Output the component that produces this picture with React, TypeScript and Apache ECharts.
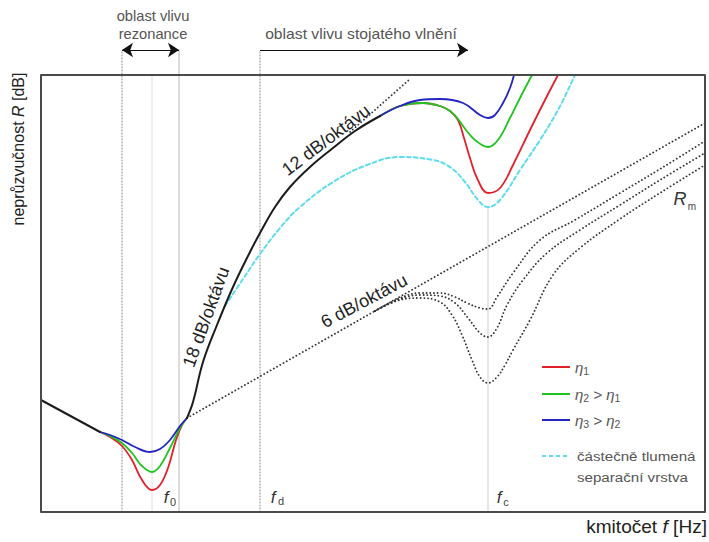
import React, { useEffect, useRef } from "react";
import * as echarts from "echarts";

// Frequency axis: relative log-frequency units (0 = left frame), R axis: relative dB units
const F_MAX = 664;
const R_TOP = 437; // top frame
const R_MAX = 462; // level of the region arrows

// characteristic frequencies
const resonanceBand = [81, 138];
const f0 = 111;
const fd = 219;
const fc = 447;
const standingWaveArrow = [219, 427];

// curves [f, R]
const blackLow = [[0, 112], [59, 80]];
const blackRise = [[146, 94], [152, 110], [162, 150], [176, 187], [192, 225], [209, 260], [219, 279], [234, 305], [249, 325], [269, 345], [292, 364], [314, 381], [339, 396]];
const eta3Low = [[59, 80], [69, 77], [81, 72], [94, 65], [109, 60], [119, 63], [129, 72], [139, 86], [146, 94]];
const eta2Low = [[59, 80], [69, 76], [81, 69], [91, 59], [101, 46], [111, 40], [119, 46], [129, 64], [139, 84], [146, 94]];
const eta1Low = [[59, 80], [69, 75], [81, 66], [91, 52], [101, 32], [111, 22], [119, 27], [127, 44], [135, 72], [141, 87], [146, 94]];
const eta3High = [[339, 396], [359, 406], [379, 412], [399, 413], [422, 409], [439, 397], [447, 394], [454, 397], [462, 409], [469, 424], [473, 437]];
const eta2High = [[339, 396], [359, 406], [382, 409], [399, 406], [409, 401], [417, 393], [425, 382], [434, 372], [447, 365], [457, 372], [469, 394], [479, 414], [491, 437]];
const eta1High = [[339, 396], [359, 406], [382, 409], [399, 406], [409, 401], [417, 392], [423, 374], [429, 354], [436, 334], [447, 319], [459, 324], [472, 347], [489, 382], [504, 412], [517, 437]];
const partialDamped = [[184, 206], [202, 233], [219, 258], [239, 284], [259, 305], [292, 330], [326, 347], [359, 355], [392, 352], [409, 345], [424, 330], [437, 312], [447, 305], [459, 312], [479, 342], [499, 372], [517, 402], [534, 437]];
const sixDbLine = [[146, 94], [664, 389]];
const twelveDbAsymptote = [[309, 380], [369, 433]];
const rmShallow = [[334, 201], [359, 214], [379, 219], [399, 219], [414, 215], [426, 209], [439, 204], [447, 203], [456, 215], [472, 239], [499, 272], [534, 292], [579, 319], [619, 343], [664, 371]];
const rmMid = [[334, 201], [359, 213], [379, 217], [399, 216], [414, 209], [427, 194], [439, 179], [447, 175], [456, 184], [466, 207], [482, 232], [506, 259], [539, 282], [579, 307], [619, 332], [664, 359]];
const rmDeep = [[334, 201], [359, 212], [379, 214], [399, 210], [411, 197], [421, 177], [431, 152], [439, 135], [447, 129], [456, 135], [464, 147], [472, 162], [489, 192], [512, 237], [539, 264], [579, 293], [619, 319], [664, 347]];

const RED = "#e3202a";
const GREEN = "#1fc41f";
const BLUE = "#2424c4";
const CYAN = "#5fdcec";
const BLACK = "#1c1c1c";
const DOTS = "#333333";
const FONT = "'Liberation Sans', Arial, sans-serif";

function curve(data: number[][], color: string, width: number, type: any = "solid", smooth: any = 0.4, z = 3, clip = true) {
  return {
    type: "line",
    data,
    symbol: "none",
    showSymbol: false,
    smooth,
    silent: true,
    clip,
    z,
    lineStyle: { color, width, type, cap: "round", join: "round" },
    emphasis: { disabled: true },
  };
}

function vline(f: number, rTop: number, color: string, type: any, width = 1) {
  return curve([[f, 0], [f, rTop]], color, width, type, false, 1, false);
}

export default function App() {
  const ref = useRef<HTMLDivElement>(null);
  useEffect(() => {
    if (!ref.current) return;
    const chart = echarts.init(ref.current, null, { renderer: "svg" });
    const dotted = [0.1, 3.6];
    const grayDot = [1, 2];
    const sub = (txt: string, x: number, y: number, size = 11, color = "#444", scaleX = 1) => ({
      type: "text", x, y, scaleX, silent: true,
      style: { text: txt, fontSize: size, fontFamily: FONT, fill: color, align: "center", verticalAlign: "middle" },
    });
    const ital = (txt: string, x: number, y: number, size = 17) => ({
      type: "text", x, y, silent: true,
      style: { text: txt, fontSize: size, fontStyle: "italic", fontFamily: FONT, fill: "#333", align: "center", verticalAlign: "middle" },
    });
    const rot = (txt: string, x: number, y: number, deg: number, size = 18) => ({
      type: "text", x, y, rotation: (deg * Math.PI) / 180, silent: true,
      style: { text: txt, fontSize: size, fontFamily: FONT, fill: "#222", align: "center", verticalAlign: "middle" },
    });
    const legLine = (y: number, color: string, dash: any) => ({
      type: "line", silent: true,
      shape: { x1: 542, y1: y, x2: 570, y2: y },
      style: { stroke: color, lineWidth: 2, lineDash: dash },
    });
    const richBase = {
      e: { fontSize: 15, fontFamily: FONT, fontStyle: "italic", fill: "#555", lineHeight: 18 },
      s: { fontSize: 10.5, fontFamily: FONT, fill: "#555", lineHeight: 18, padding: [7, 0, 0, 0] },
    };
    const legText = (txt: string, y: number) => ({
      type: "text", x: 575, y, silent: true,
      style: { text: txt, rich: richBase, align: "left", verticalAlign: "middle" },
    });

    const option: any = {
      animation: false,
      grid: { left: 41, right: 4, top: 50, bottom: 30 },
      xAxis: { type: "value", min: 0, max: F_MAX, show: false },
      yAxis: { type: "value", min: 0, max: R_MAX, show: false },
      series: [
        curve([[0, 0], [F_MAX, 0], [F_MAX, R_TOP], [0, R_TOP], [0, 0]], "#4a4a4a", 2, "solid", false, 10, false),
        {
          ...vline(resonanceBand[0], R_MAX, "#8a8a8a", grayDot),
          markLine: {
            silent: true,
            symbol: ["arrow", "arrow"],
            symbolSize: 11,
            label: { show: false },
            lineStyle: { color: "#111", width: 1, type: "solid" },
            emphasis: { disabled: true },
            data: [
              [{ coord: [resonanceBand[0], R_MAX] }, { coord: [resonanceBand[1], R_MAX] }],
              [{ coord: [standingWaveArrow[0], R_MAX], symbol: "none" }, { coord: [standingWaveArrow[1], R_MAX] }],
            ],
          },
        },
        vline(f0, R_TOP, "#dedede", "solid"),
        vline(resonanceBand[1], R_MAX, "#b8b8b8", "solid"),
        vline(fd, R_MAX, "#8a8a8a", grayDot),
        vline(fc, 305, "#cfcfcf", "solid"),
        curve(blackLow, BLACK, 2, "solid", false, 6),
        curve(partialDamped, CYAN, 2, [4, 3], 0.4, 4),
        curve(eta1Low, RED, 1.8, "solid", 0.4, 5),
        curve(eta2Low, GREEN, 1.8, "solid", 0.4, 5),
        curve(eta3Low, BLUE, 1.8, "solid", 0.4, 5),
        curve(eta1High, RED, 1.8, "solid", 0.4, 5),
        curve(eta2High, GREEN, 1.8, "solid", 0.4, 5),
        curve(eta3High, BLUE, 1.8, "solid", 0.4, 5),
        curve(blackRise, BLACK, 2, "solid", 0.4, 6),
        curve(sixDbLine, DOTS, 1.8, dotted, false, 3),
        curve(twelveDbAsymptote, DOTS, 1.8, dotted, false, 3),
        curve(rmShallow, DOTS, 1.8, dotted, 0.4, 3),
        curve(rmMid, DOTS, 1.8, dotted, 0.4, 3),
        curve(rmDeep, DOTS, 1.8, dotted, 0.4, 3),
      ],
      graphic: [
        sub("oblast vlivu", 153, 16, 14, "#555", 1.05),
        sub("rezonance", 153, 34, 14, "#555", 1.05),
        sub("oblast vlivu stojatého vlnění", 361, 34, 14, "#555", 1.12),
        {
          type: "text", x: 18, y: 149, rotation: Math.PI / 2, silent: true,
          style: {
            text: "{a|neprůzvučnost }{i|R}{a| [dB]}", align: "center", verticalAlign: "middle",
            rich: {
              a: { fontSize: 16, fontFamily: FONT, fill: "#222" },
              i: { fontSize: 16, fontFamily: FONT, fill: "#222", fontStyle: "italic" },
            },
          },
        },
        {
          type: "text", x: 707, y: 527, scaleX: 1.06, silent: true,
          style: {
            text: "{a|kmitočet }{i|f}{a| [Hz]}", align: "right", verticalAlign: "middle",
            rich: {
              a: { fontSize: 18, fontFamily: FONT, fill: "#222" },
              i: { fontSize: 18, fontFamily: FONT, fill: "#222", fontStyle: "italic" },
            },
          },
        },
        rot("18 dB/oktávu", 206, 317, 70, 18),
        rot("12 dB/oktávu", 326, 140, 37, 18),
        rot("6 dB/oktávu", 364, 301, 28, 18),
        ital("R", 680, 199, 18),
        sub("m", 692, 206, 10, "#444"),
        ital("f", 166, 497, 17),
        sub("0", 173, 502, 11),
        ital("f", 273, 497, 17),
        sub("d", 281, 501, 11),
        ital("f", 499, 497, 17),
        sub("c", 506, 502, 11),
        legLine(367, RED, null),
        legText("{e|η}{s|1}", 367),
        legLine(394, GREEN, null),
        legText("{e|η}{s|2}{e| > η}{s|1}", 394),
        legLine(420, BLUE, null),
        legText("{e|η}{s|3}{e| > η}{s|2}", 420),
        legLine(456, CYAN, [4, 3]),
        { type: "text", x: 577, y: 456, scaleX: 1.12, silent: true, style: { text: "částečně tlumená", fontSize: 13.5, fontFamily: FONT, fill: "#555", align: "left", verticalAlign: "middle" } },
        { type: "text", x: 577, y: 477, scaleX: 1.12, silent: true, style: { text: "separační vrstva", fontSize: 13.5, fontFamily: FONT, fill: "#555", align: "left", verticalAlign: "middle" } },
      ],
    };
    chart.setOption(option);
    return () => chart.dispose();
  }, []);
  return <div ref={ref} style={{ position: "absolute", left: 0, top: 0, width: 709, height: 542 }} />;
}
